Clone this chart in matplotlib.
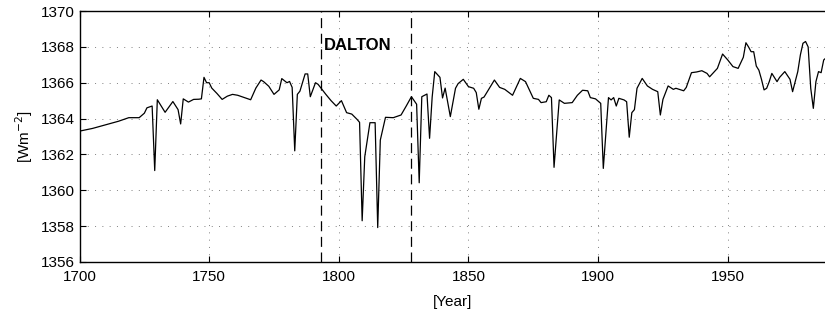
import numpy as np
import matplotlib
matplotlib.use('Agg')
import matplotlib.pyplot as plt

plt.rcParams['font.family'] = ['Liberation Sans', 'DejaVu Sans']

# years and irradiance values
years = [1700, 1705, 1710, 1715, 1719, 1723, 1725, 1726, 1728, 1729,
         1730, 1733, 1736, 1738, 1739, 1740, 1742, 1744, 1746, 1747,
         1748, 1749, 1750, 1751, 1753, 1755, 1757, 1759, 1761, 1763,
         1766, 1768, 1770, 1771, 1773, 1775, 1777, 1778, 1780, 1781,
         1782, 1783, 1784, 1785, 1787, 1788, 1789, 1791, 1792, 1795,
         1797, 1799, 1801, 1803, 1805, 1807, 1808, 1809, 1810, 1812,
         1814, 1815, 1816, 1818, 1821, 1824, 1826, 1828, 1830, 1831,
         1832, 1834, 1835, 1836, 1837, 1839, 1840, 1841, 1843, 1845,
         1846, 1848, 1850, 1852, 1853, 1854, 1855, 1856, 1860, 1862,
         1864, 1867, 1870, 1872, 1875, 1877, 1878, 1880, 1881, 1882,
         1883, 1885, 1887, 1890, 1892, 1894, 1896, 1897, 1899, 1901,
         1902, 1904, 1905, 1906, 1907, 1908, 1910, 1911, 1912, 1913,
         1914, 1915, 1917, 1919, 1921, 1923, 1924, 1925, 1927, 1929,
         1930, 1933, 1934, 1936, 1938, 1940, 1942, 1943, 1946, 1948,
         1950, 1952, 1954, 1956, 1957, 1958, 1959, 1960, 1961, 1962,
         1963, 1964, 1965, 1966, 1967, 1969, 1970, 1972, 1974, 1975,
         1977, 1978, 1979, 1980, 1981, 1982, 1983, 1984, 1985, 1986,
         1987, 1988]
tsi = [1363.30, 1363.45, 1363.65, 1363.85, 1364.05, 1364.05, 1364.30, 1364.60, 1364.70, 1361.10,
       1365.05, 1364.35, 1364.95, 1364.50, 1363.70, 1365.10, 1364.92, 1365.07, 1365.08, 1365.10,
       1366.30, 1366.00, 1366.00, 1365.70, 1365.40, 1365.07, 1365.25, 1365.35, 1365.30, 1365.20,
       1365.05, 1365.70, 1366.15, 1366.06, 1365.80, 1365.35, 1365.60, 1366.23, 1366.00, 1366.07,
       1365.74, 1362.20, 1365.35, 1365.53, 1366.49, 1366.49, 1365.22, 1366.00, 1365.91, 1365.35,
       1365.00, 1364.70, 1365.00, 1364.33, 1364.25, 1363.96, 1363.79, 1358.30, 1361.87, 1363.77,
       1363.77, 1357.92, 1362.80, 1364.07, 1364.05, 1364.20, 1364.70, 1365.22, 1364.80, 1360.42,
       1365.22, 1365.37, 1362.90, 1365.20, 1366.62, 1366.30, 1365.15, 1365.70, 1364.11, 1365.69,
       1365.95, 1366.19, 1365.78, 1365.69, 1365.45, 1364.52, 1365.13, 1365.20, 1366.15, 1365.74,
       1365.63, 1365.30, 1366.24, 1366.06, 1365.13, 1365.07, 1364.89, 1364.94, 1365.30, 1365.17,
       1361.28, 1365.04, 1364.85, 1364.89, 1365.30, 1365.58, 1365.55, 1365.17, 1365.10, 1364.85,
       1361.22, 1365.17, 1365.04, 1365.17, 1364.70, 1365.13, 1365.04, 1364.94, 1362.96, 1364.33,
       1364.50, 1365.69, 1366.24, 1365.82, 1365.63, 1365.50, 1364.20, 1365.07, 1365.82, 1365.63,
       1365.69, 1365.55, 1365.74, 1366.56, 1366.60, 1366.67, 1366.52, 1366.33, 1366.80, 1367.60,
       1367.27, 1366.90, 1366.80, 1367.42, 1368.23, 1368.00, 1367.73, 1367.73, 1366.93, 1366.70,
       1366.19, 1365.60, 1365.69, 1366.06, 1366.52, 1366.06, 1366.30, 1366.62, 1366.19, 1365.50,
       1366.62, 1367.55, 1368.20, 1368.30, 1368.00, 1365.69, 1364.57, 1366.06, 1366.62, 1366.56,
       1367.27, 1367.40]

dalton = [1793, 1828]
xticks = [1700, 1750, 1800, 1850, 1900, 1950]
yticks = [1356, 1358, 1360, 1362, 1364, 1366, 1368, 1370]

fig = plt.figure(figsize=(8.25, 3.24), dpi=100)
ax = fig.add_axes([0.0964, 0.1914, 0.9036, 0.7746])

ax.plot(years, tsi, color='black', linewidth=0.9)

for d in dalton:
    ax.axvline(d, color='black', linewidth=0.9, linestyle=(0, (8, 4.5)))
ax.text(1794.2, 1368.1, 'DALTON', fontsize=12, fontweight='bold', ha='left', va='center')

ax.set_xlim(1700, 1987.5)
ax.set_ylim(1356, 1370)
ax.set_xticks(xticks)
ax.set_yticks(yticks)
ax.tick_params(direction='in', length=4, labelsize=11, width=0.8, top=True)
ax.tick_params(axis='x', pad=6)
ax.grid(True, color='gray', linestyle=(0, (1, 6.5)), linewidth=0.7)
ax.spines['right'].set_visible(False)
for s in ['left', 'top', 'bottom']:
    ax.spines[s].set_linewidth(1.0)

ax.set_xlabel('[Year]', fontsize=11, labelpad=8)
ax.set_ylabel('[Wm$^{-2}$]', fontsize=11, labelpad=4)

fig.savefig('out.png', dpi=100)
